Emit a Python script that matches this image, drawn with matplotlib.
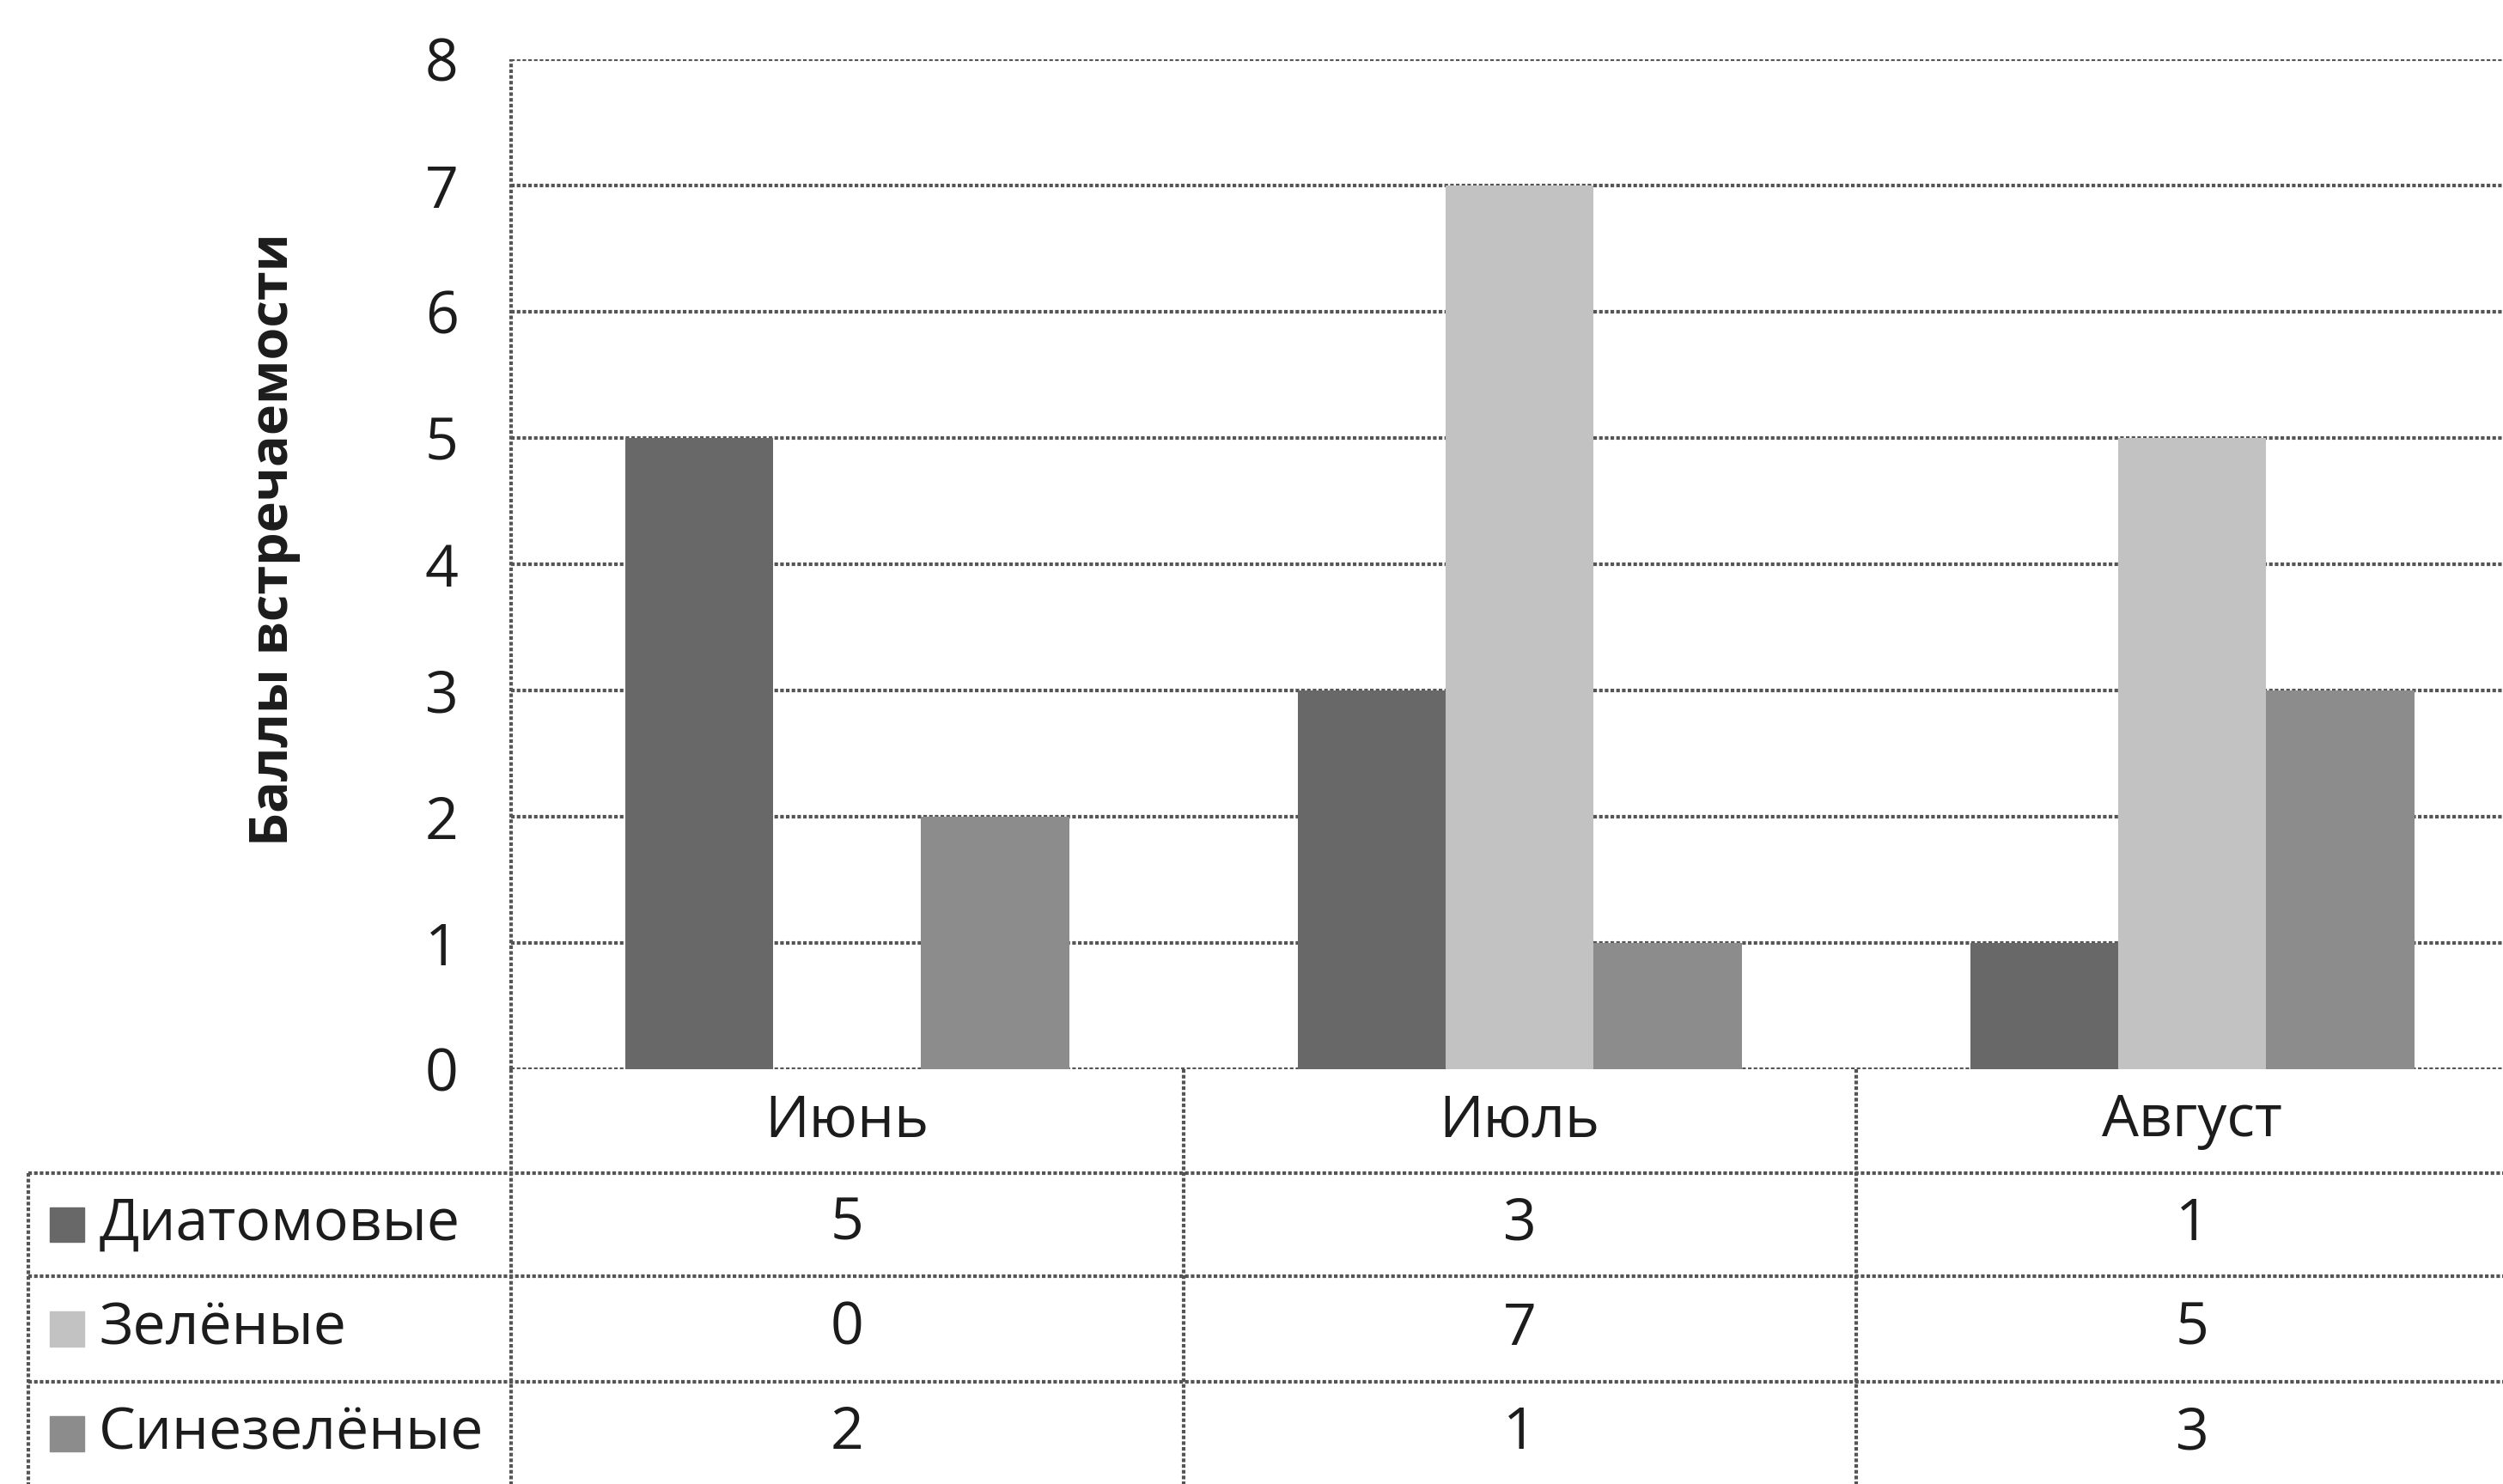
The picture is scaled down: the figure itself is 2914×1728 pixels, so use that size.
import matplotlib.pyplot as plt
import matplotlib.transforms as mtransforms
from matplotlib.lines import Line2D
from matplotlib.patches import Rectangle
import numpy as np

plt.rcParams['font.family'] = ['Open Sans', 'DejaVu Sans']

months = ['Июнь', 'Июль', 'Август']
series = ['Диатомовые', 'Зелёные', 'Синезелёные']
diatom = [5, 3, 1]
green = [0, 7, 5]
bluegreen = [2, 1, 3]
values = [diatom, green, bluegreen]
colors = ['#686868', '#c2c2c2', '#8c8c8c']

FS = 49
TC = '#1c1c1c'
W, H = 1568, 930  # layout measured on the shrunk picture

def fx(px):
    return px / W

def fy(py):
    return 1 - py / H

fig = plt.figure(figsize=(29.14, 17.28), dpi=100)
ax = fig.add_axes([fx(320), fy(670), fx(1584) - fx(320), fy(37) - fy(670)])

x = np.arange(len(months))
bw = 0.22
for i, (vals, c) in enumerate(zip(values, colors)):
    ax.bar(x + (i - 1) * bw, vals, width=bw, color=c, zorder=3)

# dotted halftone-like lines
lk = dict(color='#555555', linewidth=3, linestyle=(0, (1.0, 0.6)))

ax.set_xlim(-0.5, 2.5)
ax.set_ylim(0, 8)
ax.set_yticks(range(0, 9))
ax.set_xticks([])
ax.tick_params(axis='y', length=0, labelsize=FS, pad=44, colors=TC)
for s in ax.spines.values():
    s.set_visible(False)
ax.grid(axis='y', zorder=1, **lk)
ax.axvline(-0.5, clip_on=False, **lk)
ax.set_ylabel('Баллы встречаемости', fontsize=44, fontweight='bold', color=TC, va='center')
ax.yaxis.set_label_coords(-0.117, 0.524)

# data table under the plot
tr = mtransforms.blended_transform_factory(ax.transData, fig.transFigure)
rows = [670, 735, 800, 866, 931]
for r in rows[1:]:
    fig.add_artist(Line2D([fx(18), 1.02], [fy(r), fy(r)], clip_on=False, **lk))
for b in [-0.5, 0.5, 1.5, 2.5]:
    fig.add_artist(Line2D([b, b], [fy(670), 0], transform=tr, clip_on=False, **lk))
fig.add_artist(Line2D([fx(18), fx(18)], [fy(735), 0], clip_on=False, **lk))

for j, m in enumerate(months):
    fig.text(j, fy((rows[0] + rows[1]) / 2), m, transform=tr, ha='center', va='center',
             fontsize=FS, color=TC)
for i, (name, vals, c) in enumerate(zip(series, values, colors)):
    yc = fy((rows[i + 1] + rows[i + 2]) / 2)
    fig.add_artist(Rectangle((fx(31), yc - 0.0118), fx(22), 0.0236, color=c, transform=fig.transFigure))
    fig.text(fx(62), yc, name, ha='left', va='center', fontsize=FS, color=TC)
    for j, v in enumerate(vals):
        fig.text(j, yc, str(v), transform=tr, ha='center', va='center', fontsize=FS, color=TC)

fig.savefig('out.png', dpi=100)
